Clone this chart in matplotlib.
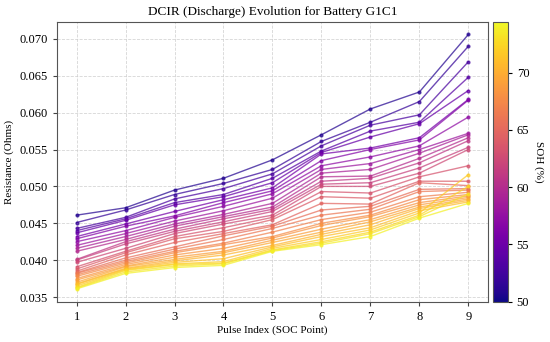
import matplotlib
matplotlib.use('Agg')
import matplotlib.pyplot as plt
import numpy as np
from matplotlib import cm, colors

plt.rcParams['font.family'] = ['Liberation Serif', 'DejaVu Serif']

# SOH of each measurement (%), darkest line first
soh = [50.9, 51.8, 52.8, 53.7, 54.6, 55.5, 56.4, 57.3, 58.2, 59.1,
       60.0, 60.9, 61.7, 62.5, 63.3, 64.0, 64.8, 65.5, 66.2, 66.9,
       67.6, 68.3, 69.0, 69.7, 70.4, 71.1, 71.8, 72.5, 73.2, 73.9]

pulse_idx = [1, 2, 3, 4, 5, 6, 7, 8, 9]

# DCIR (Ohms) at each pulse, one value per SOH entry above
r_p1 = [0.0461, 0.0451, 0.0443, 0.0440, 0.0437, 0.0432, 0.0429, 0.0425, 0.0420, 0.0416,
        0.0412, 0.0401, 0.0400, 0.0397, 0.0391, 0.0388, 0.0385, 0.0383, 0.0382, 0.0380,
        0.0378, 0.0375, 0.0373, 0.0370, 0.0368, 0.0367, 0.0365, 0.0363, 0.0362, 0.0361]
r_p2 = [0.0471, 0.0468, 0.0458, 0.0456, 0.0454, 0.0449, 0.0446, 0.0440, 0.0436, 0.0432,
        0.0428, 0.0425, 0.0422, 0.0416, 0.0412, 0.0410, 0.0407, 0.0403, 0.0400, 0.0398,
        0.0396, 0.0394, 0.0392, 0.0391, 0.0389, 0.0388, 0.0387, 0.0386, 0.0384, 0.0382]
r_p3 = [0.0495, 0.0489, 0.0483, 0.0478, 0.0475, 0.0466, 0.0460, 0.0458, 0.0453, 0.0449,
        0.0446, 0.0442, 0.0439, 0.0436, 0.0432, 0.0429, 0.0424, 0.0418, 0.0415, 0.0412,
        0.0410, 0.0407, 0.0404, 0.0401, 0.0399, 0.0397, 0.0395, 0.0394, 0.0392, 0.0390]
r_p4 = [0.0511, 0.0504, 0.0497, 0.0489, 0.0486, 0.0482, 0.0478, 0.0473, 0.0467, 0.0462,
        0.0459, 0.0456, 0.0452, 0.0449, 0.0444, 0.0439, 0.0436, 0.0433, 0.0428, 0.0423,
        0.0421, 0.0416, 0.0412, 0.0410, 0.0407, 0.0402, 0.0398, 0.0396, 0.0395, 0.0393]
r_p5 = [0.0536, 0.0523, 0.0517, 0.0511, 0.0505, 0.0498, 0.0494, 0.0490, 0.0484, 0.0477,
        0.0472, 0.0469, 0.0466, 0.0461, 0.0458, 0.0455, 0.0448, 0.0446, 0.0443, 0.0438,
        0.0432, 0.0430, 0.0427, 0.0424, 0.0420, 0.0418, 0.0416, 0.0414, 0.0413, 0.0412]
r_p6 = [0.0570, 0.0561, 0.0555, 0.0548, 0.0546, 0.0544, 0.0535, 0.0528, 0.0523, 0.0518,
        0.0513, 0.0507, 0.0503, 0.0500, 0.0493, 0.0486, 0.0477, 0.0468, 0.0461, 0.0455,
        0.0450, 0.0447, 0.0442, 0.0438, 0.0435, 0.0432, 0.0428, 0.0425, 0.0423, 0.0421]
r_p7 = [0.0605, 0.0587, 0.0583, 0.0575, 0.0567, 0.0552, 0.0550, 0.0540, 0.0531, 0.0523,
        0.0514, 0.0511, 0.0505, 0.0500, 0.0491, 0.0484, 0.0476, 0.0473, 0.0469, 0.0465,
        0.0461, 0.0459, 0.0455, 0.0452, 0.0448, 0.0444, 0.0441, 0.0438, 0.0436, 0.0432]
r_p8 = [0.0628, 0.0615, 0.0597, 0.0587, 0.0585, 0.0566, 0.0563, 0.0555, 0.0550, 0.0545,
        0.0538, 0.0532, 0.0525, 0.0518, 0.0513, 0.0507, 0.0505, 0.0496, 0.0493, 0.0486,
        0.0482, 0.0478, 0.0475, 0.0472, 0.0470, 0.0467, 0.0464, 0.0461, 0.0459, 0.0457]
r_p9 = [0.0706, 0.0690, 0.0669, 0.0648, 0.0630, 0.0618, 0.0617, 0.0594, 0.0572, 0.0570,
        0.0566, 0.0562, 0.0553, 0.0550, 0.0528, 0.0507, 0.0501, 0.0497, 0.0495, 0.0492,
        0.0489, 0.0487, 0.0485, 0.0483, 0.0481, 0.0479, 0.0516, 0.0500, 0.0490, 0.0477]

dcir = np.array([r_p1, r_p2, r_p3, r_p4, r_p5, r_p6, r_p7, r_p8, r_p9]).T

fig = plt.figure(figsize=(5.5, 3.42), dpi=100)
ax = fig.add_axes([0.1036, 0.118, 0.7836, 0.8185])
cax = fig.add_axes([0.896, 0.118, 0.027, 0.8185])

norm = colors.Normalize(vmin=50, vmax=74.45)
cmap = plt.get_cmap('plasma')

for s, row in zip(soh, dcir):
    ax.plot(pulse_idx, row, marker='o', markersize=2, linewidth=1,
            color=cmap(norm(s)), alpha=0.72)

ax.set_title('DCIR (Discharge) Evolution for Battery G1C1', fontsize=9.5, pad=5)
ax.set_xlabel('Pulse Index (SOC Point)', fontsize=8, labelpad=2)
ax.set_ylabel('Resistance (Ohms)', fontsize=8, labelpad=4)
ax.set_xticks(pulse_idx)
ax.set_yticks([0.035, 0.040, 0.045, 0.050, 0.055, 0.060, 0.065, 0.070])
ax.yaxis.set_major_formatter(plt.FormatStrFormatter('%.3f'))
ax.tick_params(labelsize=9, length=3, color='#444444')
ax.grid(True, linestyle='--', linewidth=0.6, color='#cccccc', alpha=0.8)
for sp in ax.spines.values():
    sp.set_color('#555555')

sm = cm.ScalarMappable(norm=norm, cmap=cmap)
cb = fig.colorbar(sm, cax=cax)
cb.set_ticks([50, 55, 60, 65, 70])
cb.ax.tick_params(labelsize=9, length=3)
cb.set_label('SOH (%)', rotation=270, fontsize=8, labelpad=10)
cb.outline.set_edgecolor('#555555')

fig.savefig('out.png', dpi=100)
